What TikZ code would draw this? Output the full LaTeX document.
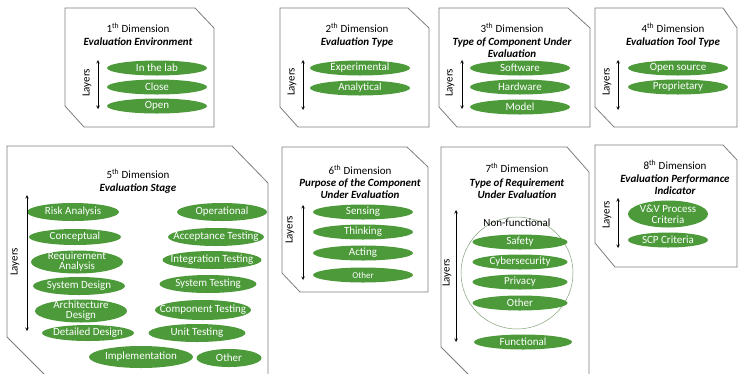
\documentclass[tikz,border=0pt]{standalone}
\usepackage{fontspec}
\setmainfont{Carlito}
\usetikzlibrary{shapes}
\usetikzlibrary{arrows}

\definecolor{layergreen}{RGB}{76,154,58}
\definecolor{boxgray}{RGB}{125,125,125}
\definecolor{ringgray}{RGB}{130,160,120}

\begin{document}
\begin{tikzpicture}[x=1pt,y=-1pt]
	\tikzstyle{dimbox}=[draw=boxgray,line width=0.8pt,fill=white]
	\tikzstyle{layer}=[ellipse,fill=layergreen,text=white,inner xsep=-12pt,inner ysep=-2pt,minimum width=100pt,minimum height=15pt,font=\fontsize{11}{11}\selectfont,align=center]
	\tikzstyle{dimtitle}=[inner sep=0pt,font=\fontsize{11}{12}\selectfont,align=center]
	\tikzstyle{dimname}=[inner sep=0pt,font=\fontsize{11}{12}\selectfont\bfseries\itshape,align=center]
	\tikzstyle{layerlabel}=[rotate=90,inner sep=0pt,font=\fontsize{11}{11}\selectfont]
	\tikzstyle{layerarrow}=[<->,>=stealth,line width=0.6pt]
	
	\useasboundingbox (0,0) rectangle (738,373);
	\clip (0,0) rectangle (738,373);
	
	% boxes
	\draw[dimbox] (65,8) -- (195,8) -- (214,28) -- (214,127) -- (84,127) -- (65,106) -- cycle;
	\draw[dimbox] (280,8) -- (408,8) -- (429,28) -- (429,127) -- (298,127) -- (280,107) -- cycle;
	\draw[dimbox] (439,8) -- (568,8) -- (590,28) -- (590,127) -- (457,127) -- (439,107) -- cycle;
	\draw[dimbox] (595,8) -- (723,8) -- (737,28) -- (737,127) -- (614,127) -- (595,107) -- cycle;
	\draw[dimbox] (7,146) -- (232,146) -- (268,183) -- (268,380) -- (50,380) -- (7,337) -- cycle;
	\draw[dimbox] (282,147) -- (407,147) -- (428,167) -- (428,292) -- (300,292) -- (282,273) -- cycle;
	\draw[dimbox] (441,147) -- (567,147) -- (589,172) -- (589,380) -- (474,380) -- (441,347) -- cycle;
	\draw[dimbox] (595,145) -- (723,145) -- (737,160) -- (737,267) -- (615,267) -- (595,243) -- cycle;
	
	% 1th dimension
	\node[dimtitle] (t1) at (138,28) {1\textsuperscript{th} Dimension};
	\node[dimname] (n1) at (138,42) {Evaluation Environment};
	\node[layer] (lab) at (157,68) {In the lab};
	\node[layer] (close) at (157,87) {Close};
	\node[layer] (open) at (157,106) {Open};
	\coordinate (a1) at (98,60);
	\coordinate (b1) at (98,109);
	\draw[layerarrow] (a1) -- (b1);
	\node[layerlabel] (l1) at (87,83) {Layers};
	
	% 2th dimension
	\node[dimtitle] (t2) at (357,28) {2\textsuperscript{th} Dimension};
	\node[dimname] (n2) at (357,42) {Evaluation Type};
	\node[layer] (exp) at (360,68) {Experimental};
	\node[layer] (ana) at (360,88) {Analytical};
	\coordinate (a2) at (303,60);
	\coordinate (b2) at (303,110);
	\draw[layerarrow] (a2) -- (b2);
	\node[layerlabel] (l2) at (292,82) {Layers};
	
	% 3th dimension
	\node[dimtitle] (t3) at (512,28) {3\textsuperscript{th} Dimension};
	\node[dimname] (n3) at (512,47.5) {Type of Component Under\\Evaluation};
	\node[layer] (sw) at (520,68) {Software};
	\node[layer] (hw) at (520,87) {Hardware};
	\node[layer] (model) at (520,107) {Model};
	\coordinate (a3) at (462,60);
	\coordinate (b3) at (462,109);
	\draw[layerarrow] (a3) -- (b3);
	\node[layerlabel] (l3) at (450,83) {Layers};
	
	% 4th dimension
	\node[dimtitle] (t4) at (673,28) {4\textsuperscript{th} Dimension};
	\node[dimname] (n4) at (673,42) {Evaluation Tool Type};
	\node[layer] (os) at (678,68) {Open source};
	\node[layer] (prop) at (678,87) {Proprietary};
	\coordinate (a4) at (618,60);
	\coordinate (b4) at (618,110);
	\draw[layerarrow] (a4) -- (b4);
	\node[layerlabel] (l4) at (607,82) {Layers};
	
	% 5th dimension
	\node[dimtitle] (t5) at (138,174) {5\textsuperscript{th} Dimension};
	\node[dimname] (n5) at (138,189) {Evaluation Stage};
	\tikzstyle{stage}=[layer,minimum width=92pt,minimum height=18pt]
	\node[stage] (risk) at (73,212) {Risk Analysis};
	\node[stage,minimum height=16pt] (conc) at (75,237) {Conceptual};
	\node[stage,minimum height=23pt,inner ysep=-4pt,font=\fontsize{11}{10}\selectfont] (req) at (77,262) {Requirement\\Analysis};
	\node[stage] (sysd) at (79,286) {System Design};
	\node[stage,minimum height=23pt,inner ysep=-4pt,font=\fontsize{11}{10}\selectfont] (arch) at (81,311) {Architecture\\Design};
	\node[stage,minimum height=16pt] (det) at (88,333) {Detailed Design};
	\node[stage,minimum width=104pt,minimum height=22pt] (impl) at (141,357) {Implementation};
	\node[stage,minimum width=65pt] (oth5) at (229,358) {Other};
	\node[stage,minimum width=97pt] (unit) at (197,333) {Unit Testing};
	\node[stage,minimum width=96pt,minimum height=20pt] (comp) at (203,310) {Component Testing};
	\node[stage,minimum width=97pt] (syst) at (208,284) {System Testing};
	\node[stage,minimum width=99pt] (integ) at (212,260) {Integration Testing};
	\node[stage,minimum width=96pt] (acc) at (216,237) {Acceptance Testing};
	\node[stage,minimum width=90pt] (oper) at (222,212) {Operational};
	\coordinate (a5) at (27,195);
	\coordinate (b5) at (27,331);
	\draw[layerarrow] (a5) -- (b5);
	\node[layerlabel] (l5) at (15,262) {Layers};
	
	% 6th dimension
	\node[dimtitle] (t6) at (360,170) {6\textsuperscript{th} Dimension};
	\node[dimname] (n6) at (360,189) {Purpose of the Component\\Under Evaluation};
	\node[layer] (sens) at (363,212) {Sensing};
	\node[layer] (think) at (363,232) {Thinking};
	\node[layer] (act) at (363,253) {Acting};
	\node[layer,font=\fontsize{9}{9}\selectfont] (oth6) at (363,275) {Other};
	\coordinate (a6) at (303,205);
	\coordinate (b6) at (303,280);
	\draw[layerarrow] (a6) -- (b6);
	\node[layerlabel] (l6) at (290,230) {Layers};
	
	% 7th dimension
	\node[dimtitle] (t7) at (517,168) {7\textsuperscript{th} Dimension};
	\node[dimname] (n7) at (517,189) {Type of Requirement\\Under Evaluation};
	\node[circle,draw=ringgray,line width=0.5pt,minimum size=112pt,inner sep=0pt] (nonf) at (517,273) {};
	\node[inner sep=0pt,font=\fontsize{11}{11}\selectfont] (nonft) at (517,223) {Non-functional};
	\node[layer,minimum width=95pt] (safe) at (520,242) {Safety};
	\node[layer,minimum width=95pt] (cyber) at (520,262) {Cybersecurity};
	\node[layer,minimum width=95pt] (priv) at (520,282) {Privacy};
	\node[layer,minimum width=95pt] (oth7) at (520,303) {Other};
	\node[layer,minimum width=98pt] (func) at (523,342) {Functional};
	\coordinate (a7) at (456,210);
	\coordinate (b7) at (456,342);
	\draw[layerarrow] (a7) -- (b7);
	\node[layerlabel] (l7) at (447,273) {Layers};
	
	% 8th dimension
	\node[dimtitle] (t8) at (675,165) {8\textsuperscript{th} Dimension};
	\node[dimname] (n8) at (675,184.5) {Evaluation Performance\\Indicator};
	\node[layer,minimum width=80pt,minimum height=27pt,font=\fontsize{11}{11}\selectfont] (vv) at (668,214) {V\&V Process\\Criteria};
	\node[layer,minimum width=80pt] (scp) at (668,240) {SCP Criteria};
	\coordinate (a8) at (618,198);
	\coordinate (b8) at (618,248);
	\draw[layerarrow] (a8) -- (b8);
	\node[layerlabel] (l8) at (607,215) {Layers};
\end{tikzpicture}
\end{document}
